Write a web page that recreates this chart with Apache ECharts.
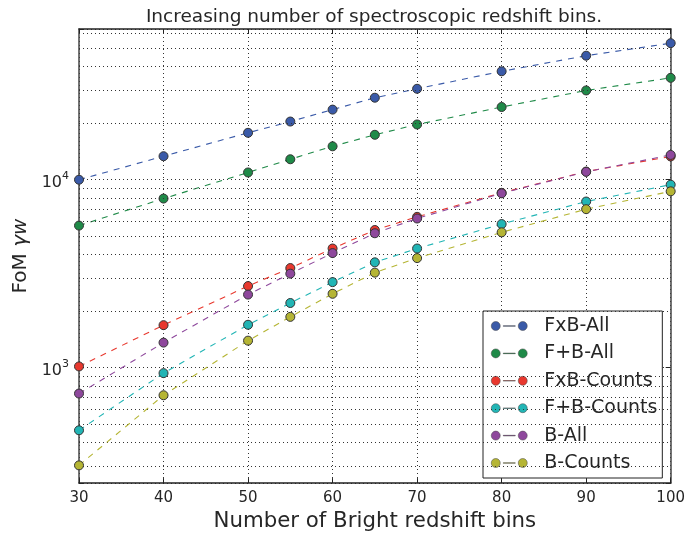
<!DOCTYPE html>
<html>
<head>
<meta charset="utf-8">
<script src="https://cdn.jsdelivr.net/npm/echarts@6/dist/echarts.min.js"></script>
<style>html,body{margin:0;padding:0;background:#fff}#c{width:688px;height:537px}</style>
</head>
<body>
<div id="c"></div>
<script>
const binCounts = [30, 40, 50, 55, 60, 65, 70, 80, 90, 100];
const fxbAll    = [10000, 13340, 17770, 20400, 23610, 27320, 30480, 37760, 45700, 53290];
const fpbAll    = [5700, 7940, 10930, 12850, 15060, 17340, 19680, 24370, 29860, 34850];
const fxbCounts = [1015, 1683, 2717, 3388, 4305, 5401, 6346, 8520, 11050, 13300];
const fpbCounts = [464, 935, 1691, 2208, 2852, 3634, 4305, 5808, 7655, 9410];
const bAll      = [728, 1359, 2448, 3163, 4070, 5190, 6218, 8466, 11020, 13550];
const bCounts   = [302, 713, 1392, 1863, 2472, 3203, 3828, 5250, 6970, 8674];
const seriesNames = ['FxB-All', 'F+B-All', 'FxB-Counts', 'F+B-Counts', 'B-All', 'B-Counts'];
const xTicks = [30, 40, 50, 60, 70, 80, 90, 100];
const yMajorTicks = [1000, 10000];
const yMinorTicks = [300, 400, 500, 600, 700, 800, 900, 2000, 3000, 4000, 5000, 6000, 7000, 8000, 9000, 20000, 30000, 40000, 50000, 60000];
const yRange = [243, 63400];

const allValues = [fxbAll, fpbAll, fxbCounts, fpbCounts, bAll, bCounts];
const colors = ['#3a5aa8', '#1f8a48', '#e8382e', '#22b5b5', '#8e489c', '#b5b534'];
const FONT = 'DejaVu Sans';
const TXT = '#262626';

const chart = echarts.init(document.getElementById('c'), null, {renderer: 'canvas'});

const legendIcon = 'path://M0,5 A4.5,4.5 0 1,1 9,5 A4.5,4.5 0 1,1 0,5 Z M12,4.7 L24,4.7 L24,5.3 L12,5.3 Z M27,5 A4.5,4.5 0 1,1 36,5 A4.5,4.5 0 1,1 27,5 Z';

const series = [{
  type: 'line', name: '_grid', data: [], xAxisIndex: 0, yAxisIndex: 0, z: 1, silent: true,
  markLine: {
    silent: true, symbol: 'none', label: {show: false}, animation: false,
    lineStyle: {color: '#333', type: [1, 3], width: 1},
    data: yMinorTicks.map(v => ({yAxis: v}))
  }
}];
allValues.forEach((vals, i) => {
  series.push({
    type: 'line', name: seriesNames[i],
    data: binCounts.map((x, j) => [x, vals[j]]),
    xAxisIndex: 0, yAxisIndex: 0,
    symbol: 'circle', symbolSize: 9,
    itemStyle: {color: colors[i], borderColor: '#333', borderWidth: 1},
    lineStyle: {color: colors[i], width: 1.1, type: [6, 6]},
    emphasis: {disabled: true},
    animation: false, z: 3 + i
  });
});

const yLabelFmt = v => {
  const e = Math.log10(v);
  if (Math.abs(e - Math.round(e)) < 1e-6) return '{b|10}{s|' + Math.round(e) + '}';
  return '';
};

chart.setOption({
  animation: false,
  title: {
    text: 'Increasing number of spectroscopic redshift bins.',
    left: 369, top: 3, textAlign: 'center',
    textStyle: {fontFamily: FONT, fontSize: 18.5, fontWeight: 'normal', color: TXT}
  },
  grid: {left: 79, right: 15, top: 29, bottom: 50, containLabel: false},
  legend: {
    data: seriesNames, orient: 'vertical', left: 483, top: 311,
    backgroundColor: '#fff', borderColor: '#222', borderWidth: 1,
    padding: [5, 5, 5, 8], itemGap: 7.4, itemWidth: 36, itemHeight: 10,
    icon: legendIcon,
    itemStyle: {borderColor: '#444', borderWidth: 0.5},
    textStyle: {fontFamily: FONT, fontSize: 19, color: TXT, lineHeight: 20, padding: [0, 0, 0, 12]},
    selectedMode: false
  },
  xAxis: [{
    type: 'value', min: 30, max: 100, interval: 10,
    name: 'Number of Bright redshift bins', nameLocation: 'middle', nameGap: 25,
    nameTextStyle: {fontFamily: FONT, fontSize: 21.3, color: TXT, verticalAlign: 'top'},
    axisLine: {show: true, lineStyle: {color: '#222', width: 1.5}},
    axisTick: {show: true, inside: true, length: 5, lineStyle: {color: '#222'}},
    axisLabel: {fontFamily: FONT, fontSize: 15, color: TXT, margin: 8},
    splitLine: {show: true, lineStyle: {color: '#333', type: [1, 3], width: 1}}
  }, {
    type: 'value', min: 30, max: 100, interval: 10, position: 'top',
    axisLine: {show: true, onZero: false, lineStyle: {color: '#222', width: 1.5}},
    axisTick: {show: true, inside: true, length: 5, lineStyle: {color: '#222'}},
    axisLabel: {show: false}, splitLine: {show: false}
  }],
  yAxis: [{
    type: 'log', logBase: 10, min: yRange[0], max: yRange[1],
    name: 'FoM {g|γw}', nameLocation: 'middle', nameGap: 34,
    nameTextStyle: {fontFamily: FONT, fontSize: 20, color: TXT,
      rich: {g: {fontFamily: FONT, fontStyle: 'italic', fontSize: 20, color: TXT}}},
    axisLine: {show: true, lineStyle: {color: '#444', width: 1.5}},
    axisTick: {show: true, inside: true, length: 5, lineStyle: {color: '#222'}},
    axisLabel: {fontFamily: FONT, color: TXT, margin: 10, formatter: yLabelFmt,
      rich: {b: {fontFamily: FONT, fontSize: 16, color: TXT, padding: [6, 0, 0, 0]},
             s: {fontFamily: FONT, fontSize: 11, color: TXT, padding: [0, 0, 8, 0]}}},
    splitLine: {show: true, lineStyle: {color: '#333', type: [1, 3], width: 1}}
  }, {
    type: 'log', logBase: 10, min: yRange[0], max: yRange[1], position: 'right',
    axisLine: {show: true, lineStyle: {color: '#444', width: 1.5}},
    axisTick: {show: true, inside: true, length: 5, lineStyle: {color: '#222'}},
    axisLabel: {show: false}, splitLine: {show: false}
  }],
  series: series
});
</script>
</body>
</html>
